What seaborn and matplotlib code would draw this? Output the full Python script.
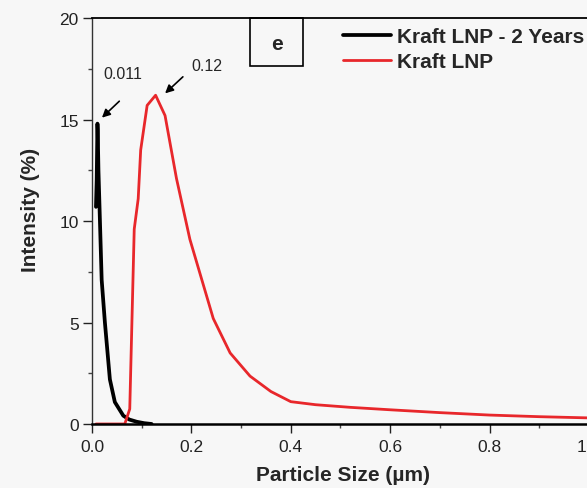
import numpy as np
import pandas as pd
import matplotlib
matplotlib.use("Agg")
import matplotlib.pyplot as plt
import seaborn as sns
from matplotlib.ticker import MultipleLocator
from matplotlib.patches import Rectangle
from matplotlib.lines import Line2D

# ---- data ----
aged_size = [0.008, 0.0095, 0.011, 0.0115, 0.013, 0.016, 0.0195, 0.026, 0.036,
             0.046, 0.063, 0.075, 0.09, 0.105, 0.12]
aged_intensity = [10.7, 12.0, 14.8, 14.5, 12.5, 10.0, 7.1, 5.0, 2.2,
                  1.08, 0.41, 0.22, 0.11, 0.04, 0.0]

fresh_size = [0.008, 0.02, 0.03, 0.04, 0.05, 0.06, 0.066, 0.076, 0.085, 0.093,
              0.098, 0.111, 0.128, 0.147, 0.17, 0.197, 0.244, 0.278, 0.318,
              0.36, 0.4, 0.45, 0.52, 0.6, 0.7, 0.8, 0.9, 1.0, 1.1, 1.2]
fresh_intensity = [0.0, 0.0, 0.0, 0.0, 0.0, 0.0, 0.0, 0.74, 9.6, 11.1,
                   13.5, 15.7, 16.2, 15.2, 12.1, 9.1, 5.2, 3.5, 2.36,
                   1.6, 1.1, 0.95, 0.82, 0.7, 0.56, 0.44, 0.36, 0.3, 0.24, 0.2]

series_names = ["Kraft LNP - 2 Years", "Kraft LNP"]
series_colors = ["#000000", "#e8272b"]

x_ticks = [0.0, 0.2, 0.4, 0.6, 0.8, 1.0, 1.2]
y_ticks = [0, 5, 10, 15, 20]

df = pd.concat([
    pd.DataFrame({"size": aged_size, "intensity": aged_intensity, "series": series_names[0]}),
    pd.DataFrame({"size": fresh_size, "intensity": fresh_intensity, "series": series_names[1]}),
], ignore_index=True)

sns.set_theme(style="ticks")
plt.rcParams["font.family"] = ["Liberation Sans", "DejaVu Sans"]

bg = "#f7f7f7"
fig = plt.figure(figsize=(5.87, 4.89), dpi=100, facecolor=bg)
ax = fig.add_axes([0.1567, 0.1309, 1.016, 0.830])
ax.set_facecolor(bg)

sns.lineplot(data=df, x="size", y="intensity", hue="series", hue_order=series_names,
             palette=series_colors, sort=False, estimator=None, ax=ax, legend=False,
             linewidth=2.2)
for ln, lw in zip(ax.get_lines(), [2.7, 2.0]):
    ln.set_linewidth(lw)

ax.set_xlim(0, 1.2)
ax.set_ylim(0, 20)
ax.set_xticks(x_ticks)
ax.set_xticklabels([f"{v:.1f}" for v in x_ticks])
ax.set_yticks(y_ticks)
ax.xaxis.set_minor_locator(MultipleLocator(0.1))
ax.yaxis.set_minor_locator(MultipleLocator(2.5))
ax.tick_params(which="major", length=6.5, width=1.0, labelsize=12.5, colors="#222222",
               direction="out")
ax.tick_params(axis="x", which="major", pad=4.5)
ax.tick_params(axis="y", which="major", pad=3)
ax.tick_params(which="minor", length=3, width=1.0, colors="#444444", direction="out")

ax.spines["right"].set_visible(False)
ax.spines["top"].set_linewidth(1.3)
ax.spines["bottom"].set_linewidth(1.8)
ax.spines["left"].set_linewidth(1.0)
ax.spines["left"].set_color("#333333")
for s in ["top", "bottom"]:
    ax.spines[s].set_color("#000000")

ax.set_xlabel("Particle Size (µm)", fontsize=15, fontweight="bold")
ax.xaxis.set_label_coords(343 / 587, (489 - 476) / 489, transform=fig.transFigure)
ax.xaxis.label.set_va("center")
ax.set_ylabel("Intensity (%)", fontsize=15, fontweight="bold")
ax.yaxis.set_label_coords(30 / 587, (489 - 210) / 489, transform=fig.transFigure)
ax.yaxis.label.set_va("center")

# annotations
ax.annotate("", xy=(0.016, 15.0), xytext=(0.059, 16.0),
            arrowprops=dict(arrowstyle="-|>", color="black", lw=1.2, mutation_scale=12))
ax.text(0.063, 17.25, "0.011", fontsize=11.5, ha="center", va="center")
ax.annotate("", xy=(0.143, 16.2), xytext=(0.187, 17.2),
            arrowprops=dict(arrowstyle="-|>", color="black", lw=1.2, mutation_scale=12))
ax.text(0.231, 17.65, "0.12", fontsize=11.5, ha="center", va="center")

# panel label box
ax.add_patch(Rectangle((250 / 587, (489 - 67) / 489), 53 / 587, 48 / 489,
                       transform=fig.transFigure, fill=False, edgecolor="black",
                       linewidth=1.2, clip_on=False))
fig.text(276.5 / 587, (489 - 44) / 489, "e", fontsize=15, fontweight="bold",
         ha="center", va="center")

# legend
handles = [Line2D([], [], color=c, lw=lw) for c, lw in zip(series_colors, [2.7, 2.0])]
leg = fig.legend(handles, series_names, loc="upper left",
                 bbox_to_anchor=(343 / 587, (489 - 28) / 489),
                 frameon=False, borderpad=0, borderaxespad=0, handlelength=2.3,
                 handletextpad=0.28, labelspacing=0.3,
                 prop={"weight": "bold", "size": 15, "family": "Liberation Sans"})

fig.savefig("out.png", dpi=100, facecolor=bg)
